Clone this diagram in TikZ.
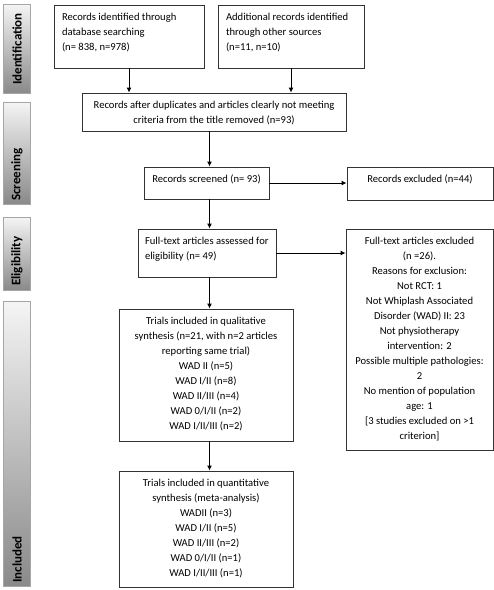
\documentclass[tikz,border=0pt]{standalone}
\usepackage{fontspec}
\setmainfont{Carlito}
\usetikzlibrary{positioning,arrows.meta,shadows}

\tikzset{
  flow/.style n args={3}{draw=black!80, line width=0.9pt, fill=white,
    font=\fontsize{10.6}{15}\selectfont, inner xsep=5pt, inner ysep=4.5pt,
    minimum width=#1, minimum height=#2,
    execute at begin node={\begin{minipage}[c][\dimexpr#2-9pt\relax][t]{\dimexpr#1-\pgfkeysvalueof{/pgf/inner xsep}-\pgfkeysvalueof{/pgf/inner xsep}\relax}#3\strut},
    execute at end node={\end{minipage}}},
  phase/.style={draw=black!35, line width=0.6pt, top color=black!4, bottom color=black!46,
    drop shadow={shadow xshift=1pt, shadow yshift=-1pt, opacity=0.35}},
  phaselabel/.style={font=\fontsize{13}{15}\selectfont\bfseries, rotate=90, inner sep=0pt},
  link/.style={draw=black, line width=0.9pt, -{Latex[length=5pt,width=5pt]}},
}

\begin{document}
\begin{tikzpicture}[x=1pt,y=-1pt]
		\useasboundingbox (0,0) rectangle (494,590);
		\shade[phase] (3,4) rectangle (30,93);
		\node[phaselabel] (identification) at (17,49) {Identification};
		\shade[phase] (3,102) rectangle (30,204);
		\node[phaselabel, anchor=west] (screening) at (17,201) {Screening};
		\shade[phase] (3,217) rectangle (30,290);
		\node[phaselabel, anchor=west] (eligibility) at (17,286) {Eligibility};
		\shade[phase] (3,301) rectangle (30,586);
		\node[phaselabel, anchor=west] (included) at (17,583) {Included};
		\node[flow={150pt}{63pt}{\raggedright}, inner xsep=8pt] (database) at (129,36.5) {Records identified through\\database searching\\(n= 838, n=978)};
		\node[flow={146pt}{63pt}{\raggedright}, inner xsep=8pt] (other) at (291,36.5) {Additional records identified\\through other sources\\(n=11, n=10)};
		\node[flow={264pt}{38pt}{\centering}] (dedup) at (214,112) {Records after duplicates and articles clearly not meeting\\criteria from the title removed (n=93)};
		\node[flow={125pt}{32pt}{\centering}] (screened) at (206.5,183) {Records screened (n= 93)};
		\node[flow={146pt}{33pt}{\centering}] (excluded) at (420,183.5) {Records excluded (n=44)};
		\node[flow={138pt}{48pt}{\raggedright}, inner xsep=7pt] (fulltext) at (207,253) {\mbox{Full-text articles assessed for}\\eligibility (n= 49)};
		\node[flow={147pt}{221pt}{\centering}, inner xsep=4pt] (ftexcluded) at (419.5,339.5) {Full-text articles excluded\\(n =26).\\Reasons for exclusion:\\Not RCT: 1\\Not Whiplash Associated\\Disorder (WAD) II: 23\\Not physiotherapy\\intervention: 2\\Possible multiple pathologies:\\2\\No mention of population\\age: 1\\{[}3 studies excluded on >1\\criterion]};
		\node[flow={174pt}{132pt}{\centering}] (qualitative) at (206,375) {Trials included in qualitative\\synthesis (n=21, with n=2 articles\\reporting same trial)\\WAD II (n=5)\\WAD I/II (n=8)\\WAD II/III (n=4)\\WAD 0/I/II (n=2)\\WAD I/II/III (n=2)};
		\node[flow={174pt}{116pt}{\centering}] (quantitative) at (206,529) {Trials included in quantitative\\synthesis (meta-analysis)\\WADII (n=3)\\WAD I/II (n=5)\\WAD II/III (n=2)\\WAD 0/I/II (n=1)\\WAD I/II/III (n=1)};
		\coordinate (spine) at (209.5,0);
		\draw[link] (database) -- (database |- dedup.north);
		\draw[link] (other) -- (other |- dedup.north);
		\draw[link] (dedup.south -| spine) -- (screened.north -| spine);
		\draw[link] (screened.east) -- (screened.east -| excluded.west);
		\draw[link] (screened.south -| spine) -- (fulltext.north -| spine);
		\draw[link] (fulltext.east) -- (fulltext.east -| ftexcluded.west);
		\draw[link] (fulltext.south -| spine) -- (qualitative.north -| spine);
		\draw[link] (qualitative.south -| spine) -- (quantitative.north -| spine);
\end{tikzpicture}
\end{document}
